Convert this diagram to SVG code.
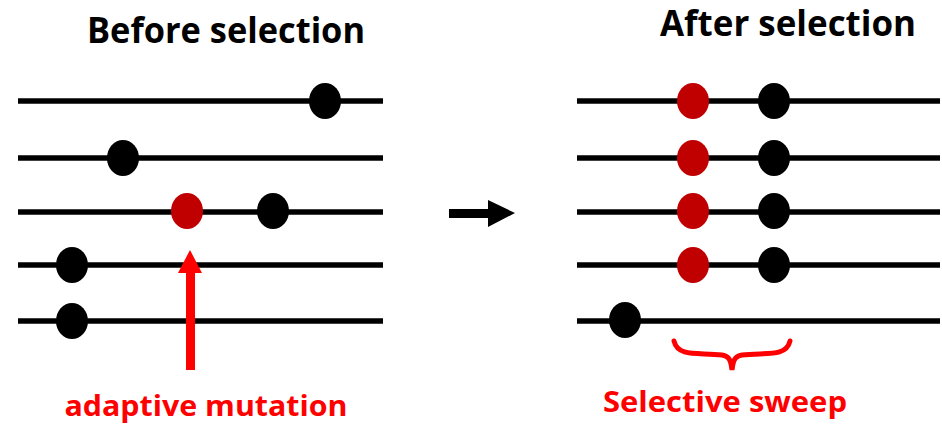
<svg xmlns="http://www.w3.org/2000/svg" width="942" height="425" viewBox="0 0 942 425">
<style>
.ln{stroke:#000;stroke-width:5.5;fill:none}
.bd{fill:#000}
.rd{fill:#c00000}
.t{font-family:"Open Sans","Noto Sans","Liberation Sans",sans-serif;font-weight:bold}
.title{font-size:35px;fill:#000}
.lab{font-size:28px;fill:#ff0000}
</style>
<rect width="942" height="425" fill="#fff"/>
<g id="title-before"><text class="t title" x="226" y="43" text-anchor="middle" textLength="278" lengthAdjust="spacingAndGlyphs">Before selection</text></g>
<g id="title-after"><text class="t title" x="788" y="36" text-anchor="middle" textLength="256" lengthAdjust="spacingAndGlyphs">After selection</text></g>
<g id="before">
<line class="ln" x1="18" y1="101" x2="383" y2="101"/>
<line class="ln" x1="18" y1="158" x2="383" y2="158"/>
<line class="ln" x1="18" y1="212" x2="383" y2="212"/>
<line class="ln" x1="18" y1="265" x2="383" y2="265"/>
<line class="ln" x1="18" y1="321" x2="383" y2="321"/>
<ellipse class="bd" cx="325" cy="101" rx="16" ry="18"/>
<ellipse class="bd" cx="123" cy="158" rx="16" ry="18"/>
<ellipse class="rd" cx="187" cy="211" rx="16" ry="18"/>
<ellipse class="bd" cx="273" cy="211" rx="16" ry="18"/>
<ellipse class="bd" cx="72" cy="265" rx="16" ry="18"/>
<ellipse class="bd" cx="72" cy="321" rx="16" ry="18"/>
</g>
<g id="after">
<line class="ln" x1="577" y1="101" x2="940" y2="101"/>
<line class="ln" x1="577" y1="158" x2="940" y2="158"/>
<line class="ln" x1="577" y1="212" x2="940" y2="212"/>
<line class="ln" x1="577" y1="265" x2="940" y2="265"/>
<line class="ln" x1="577" y1="321" x2="940" y2="321"/>
<ellipse class="rd" cx="693" cy="101" rx="16" ry="18"/>
<ellipse class="bd" cx="774" cy="101" rx="16" ry="18"/>
<ellipse class="rd" cx="693" cy="158" rx="16" ry="18"/>
<ellipse class="bd" cx="774" cy="158" rx="16" ry="18"/>
<ellipse class="rd" cx="693" cy="211" rx="16" ry="18"/>
<ellipse class="bd" cx="774" cy="211" rx="16" ry="18"/>
<ellipse class="rd" cx="693" cy="265" rx="16" ry="18"/>
<ellipse class="bd" cx="774" cy="265" rx="16" ry="18"/>
<ellipse class="bd" cx="625" cy="320" rx="16" ry="18"/>
</g>
<g id="connectors">
<polygon fill="#ff0000" points="186,370 195,370 195,273 202,273 190,250 178,273 186,273"/>
<polygon fill="#000" points="449,209 488,209 488,200 515,213 488,227 488,218 449,218"/>
<path d="M674,341 C678,358 700,352 722,355 C730,356 731,362 732,370 C733,362 734,356 742,355 C764,352 786,358 790,341" fill="none" stroke="#ff0000" stroke-width="5" stroke-linecap="round"/>
</g>
<g id="label-mutation"><text class="t lab" x="206" y="416" text-anchor="middle" textLength="283" lengthAdjust="spacingAndGlyphs">adaptive mutation</text></g>
<g id="label-sweep"><text class="t lab" x="725" y="412" text-anchor="middle" textLength="244" lengthAdjust="spacingAndGlyphs">Selective sweep</text></g>
</svg>
